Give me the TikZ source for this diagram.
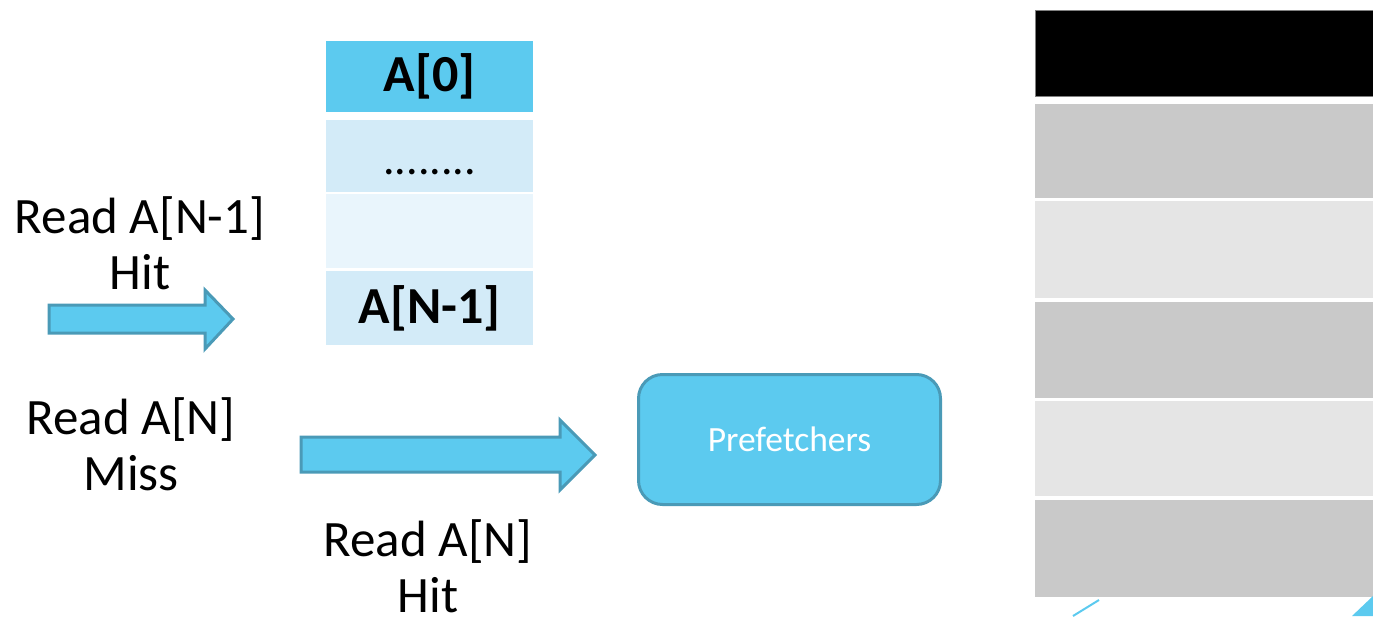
\documentclass[tikz,border=0pt]{standalone}
\usepackage{fontspec}
\setmainfont{Carlito}
\definecolor{skyfill}{HTML}{5CCAEF}
\definecolor{skyedge}{HTML}{4A9AB7}
\definecolor{paleA}{HTML}{D3EBF8}
\definecolor{paleB}{HTML}{E9F5FC}
\definecolor{greyA}{HTML}{C9C9C9}
\definecolor{greyB}{HTML}{E5E5E5}
\tikzset{
  cell/.style={draw=none, minimum width=207pt, inner sep=0pt, anchor=north west},
  bigtxt/.style={font=\fontsize{51}{56}\selectfont, align=center, inner sep=0pt},
  celltxt/.style={font=\fontsize{52}{58}\selectfont\bfseries, inner sep=0pt},
  blockarrow/.style={fill=skyfill, draw=skyedge, line width=3pt, line join=miter},
  band/.style={draw=none, minimum width=345pt, inner sep=0pt, anchor=north west},
}
\begin{document}
\begin{tikzpicture}[x=1pt, y=-1pt]
\useasboundingbox (0,0) rectangle (1373,616);

% cache lines
\node[cell, fill=skyfill, minimum height=71pt] (c0) at (326,41) {};
\node[cell, fill=paleA, minimum height=72pt] (c1) at (326,120) {};
\node[cell, fill=paleB, minimum height=74pt] (c2) at (326,194) {};
\node[cell, fill=paleA, minimum height=74pt] (c3) at (326,271) {};
\node[celltxt] (t0) at (c0.center) {A[0]};
\node[font=\fontsize{46}{50}\selectfont, inner sep=0pt, anchor=base] (t1) at ([yshift=-18pt]c1.center) {........};
\node[celltxt] (t3) at (c3.center) {A[N-1]};

% labels
\node[bigtxt] (hit1) at (140,243) {Read A[N-1]\\Hit};
\node[bigtxt] (miss) at (131,444) {Read A[N]\\Miss};
\node[bigtxt, anchor=north] (hit2) at (428,519) {Read A[N]\\Hit};

% block arrows
\draw[blockarrow] (49,305) -- (205,305) -- (205,290) -- (233,319)
  -- (205,349) -- (205,333) -- (49,333) -- cycle;
\draw[blockarrow] (301,437) -- (560,437) -- (560,420) -- (595,455)
  -- (560,490) -- (560,472) -- (301,472) -- cycle;

% prefetcher unit
\node[draw=skyedge, line width=3pt, fill=skyfill, rounded corners=24pt,
  minimum width=302pt, minimum height=130pt, text=white,
  font=\fontsize{35.5}{40}\selectfont] (pf) at (789.5,439.5) {Prefetchers};

% memory column
\node[band, fill=black, draw=gray, line width=1pt, minimum height=86pt] (m0) at (1035,10) {};
\node[band, fill=greyA, minimum height=94pt] (m1) at (1035,104) {};
\node[band, fill=greyB, minimum height=97pt] (m2) at (1035,201) {};
\node[band, fill=greyA, minimum height=96pt] (m3) at (1035,302) {};
\node[band, fill=greyB, minimum height=95pt] (m4) at (1035,401) {};
\node[band, fill=greyA, minimum height=97pt] (m5) at (1035,500) {};

% corner accents
\draw[skyfill, line width=2pt] (1073,616) -- (1099,600);
\fill[skyfill] (1352,616) -- (1373,596) -- (1373,616) -- cycle;
\end{tikzpicture}
\end{document}
